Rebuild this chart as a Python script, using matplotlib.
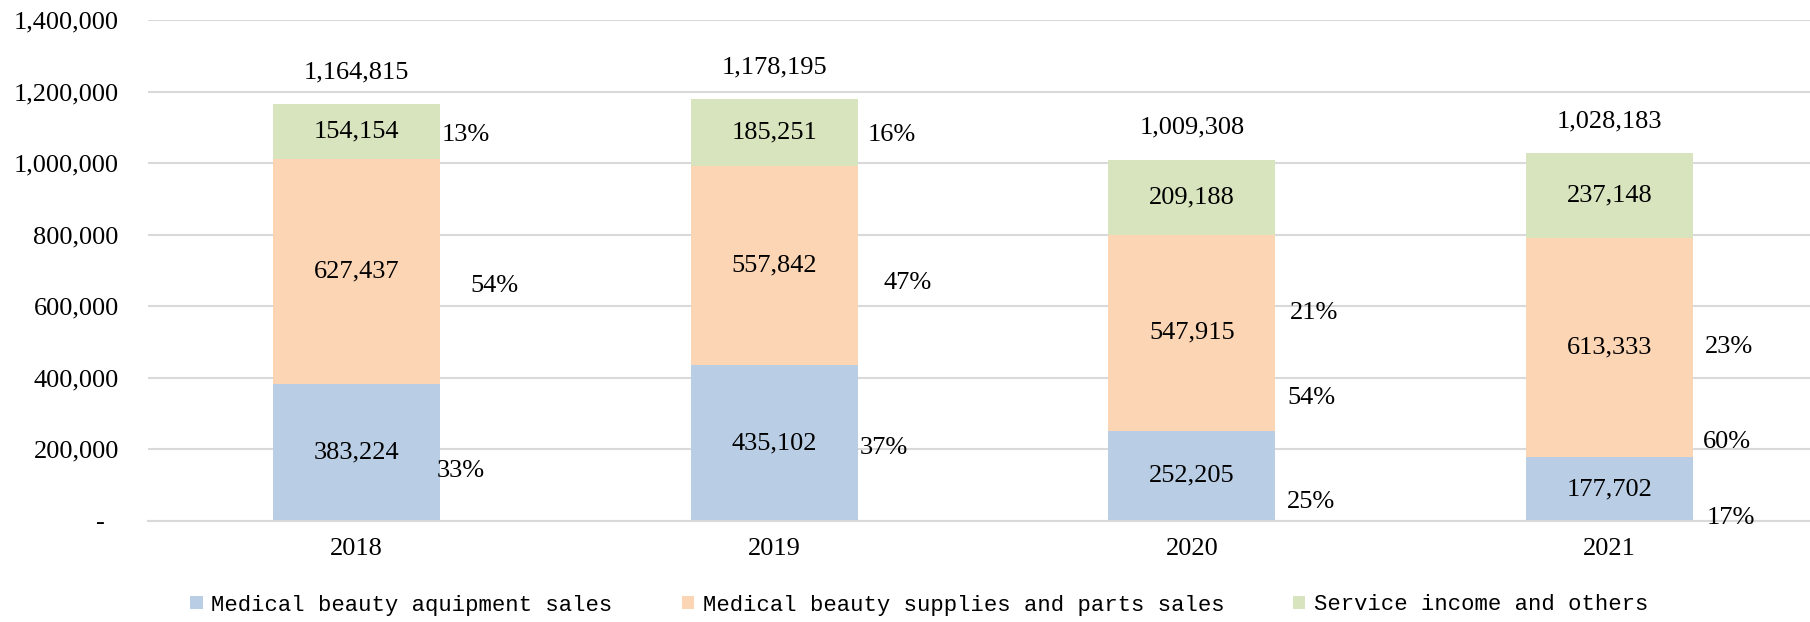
import matplotlib
matplotlib.use("Agg")
import matplotlib.pyplot as plt
import numpy as np
from matplotlib.ticker import FuncFormatter

# Revenue breakdown by year, stacked bars

years = ["2018", "2019", "2020", "2021"]
series_names = [
    "Medical beauty aquipment sales",
    "Medical beauty supplies and parts sales",
    "Service income and others",
]
equipment = [383224, 435102, 252205, 177702]
supplies = [627437, 557842, 547915, 613333]
service = [154154, 185251, 209188, 237148]
colors = ["#B9CDE5", "#FCD5B5", "#D7E4BD"]

# where the percentage labels sit (x offset from bar centre, y in data units)
pct_dx = [
    [0.248, 0.262, 0.285, 0.290],
    [0.330, 0.318, 0.285, 0.280],
    [0.260, 0.282, 0.292, 0.287],
]
pct_y = [
    [139900, 204200, 53100, 8400],
    [657300, 665700, 344100, 221000],
    [1079700, 1079700, 581800, 486700],
]

plt.rcParams["font.family"] = ["Liberation Serif", "DejaVu Serif"]

fig = plt.figure(figsize=(18.1, 6.22), dpi=100)
ax = fig.add_axes([148 / 1810, 1 - 521 / 622, 1 - 148 / 1810, (521 - 20) / 622])

x = np.arange(len(years))
stack = [equipment, supplies, service]
totals = np.sum(stack, axis=0)
bottom = np.zeros(len(years))
for vals, col, name in zip(stack, colors, series_names):
    ax.bar(x, vals, 0.4, bottom=bottom, color=col, label=name, zorder=2)
    for i, v in enumerate(vals):
        ax.text(x[i], bottom[i] + v / 2, f"{v:,}", ha="center", va="center",
                fontsize=19, zorder=3)
    bottom += np.array(vals)

for k, vals in enumerate(stack):
    for i, v in enumerate(vals):
        ax.text(x[i] + pct_dx[k][i], pct_y[k][i], f"{round(v / totals[i] * 100)}%",
                ha="center", va="center", fontsize=19, zorder=3)

for i, t in enumerate(totals):
    ax.annotate(f"{t:,}", (x[i], t), xytext=(0, 23), textcoords="offset points",
                ha="center", va="center", fontsize=19)

ax.set_xlim(-0.5, 3.48)
ax.set_ylim(0, 1400000)
ax.set_yticks(np.arange(0, 1400001, 200000))
ax.yaxis.set_major_formatter(FuncFormatter(lambda v, p: "-" if v == 0 else f"{int(v):,}"))
ax.set_xticks(x)
ax.set_xticklabels(years)
ax.tick_params(axis="both", length=0, labelsize=19)
ax.tick_params(axis="y", pad=21)
ax.tick_params(axis="x", pad=12)
ax.yaxis.get_major_ticks()[0].set_pad(31)

ax.grid(axis="y", color="#D9D9D9", linewidth=1.5, zorder=0)
ax.set_axisbelow(True)
for s in ["top", "right", "left"]:
    ax.spines[s].set_visible(False)
ax.spines["bottom"].set_color("#D9D9D9")
ax.spines["bottom"].set_linewidth(1.5)

fig.legend(loc="center", bbox_to_anchor=(0.508, 1 - 605 / 622), ncol=3,
           frameon=False, prop={"family": "Liberation Mono", "size": 16},
           handlelength=0.55, handleheight=0.55, handletextpad=0.4,
           columnspacing=3.1, borderpad=0)

fig.savefig("out.png", dpi=100)
